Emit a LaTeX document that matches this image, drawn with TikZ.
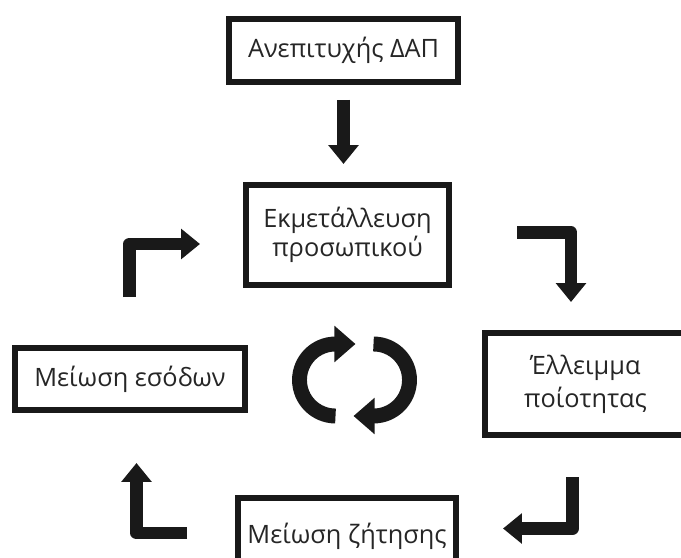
\documentclass[tikz,border=0pt]{standalone}
\usepackage{fontspec}
\setmainfont{Open Sans}
\usetikzlibrary{arrows.meta}

\tikzset{
  box/.style={draw=black!90, line width=4.25pt, inner sep=0pt, align=center,
    text=black!85, font=\fontsize{18}{21}\selectfont},
  arr/.style={draw=black!90, line width=9pt, line join=round,
    -{Triangle[length=13.5pt, width=21pt]}},
  cyc/.style={draw=black!90, line width=10.6pt,
    -{Triangle[length=15pt, width=25pt]}},
}

\begin{document}
\begin{tikzpicture}[x=0.025cm, y=-0.025cm]
    \useasboundingbox (0,0) rectangle (681,557);
    \clip (0,0) rectangle (681,557);
    % boxes
    \node [box, minimum width=5.725cm, minimum height=1.575cm] (anepit) at (343.5,50.5) {Ανεπιτυχής ΔΑΠ};
    \node [box, minimum width=5.075cm, minimum height=2.5cm] (ekmet) at (347.5,235) {Εκμετάλλευση\\προσωπικού};
    \node [box, minimum width=5.025cm, minimum height=2.55cm, font=\fontsize{18}{23.5}\selectfont] (elleimma) at (585.5,384) {Έλλειμμα\\ποίοτητας};
    \node [box, minimum width=5.45cm, minimum height=1.9cm] (zitisi) at (347,536) {Μείωση ζήτησης};
    \node [box, minimum width=5.75cm, minimum height=1.55cm] (esoda) at (130,379) {Μείωση εσόδων};
    % elbow ends
    \coordinate (tr1) at (517,232.5);
    \coordinate (tr2) at (571,302);
    \coordinate (br1) at (572.5,477);
    \coordinate (br2) at (503,528.5);
    \coordinate (bl1) at (187,533);
    \coordinate (bl2) at (136.5,463);
    \coordinate (tl1) at (129.5,297);
    \coordinate (tl2) at (200,244);
    % arrows
    \draw [arr, shorten <=0.375cm, shorten >=0.45cm] (anepit.south) -- (anepit.south |- ekmet.north);
    \draw [arr] (tr1) -| (tr2);
    \draw [arr] (br1) |- (br2);
    \draw [arr] (bl1) -| (bl2);
    \draw [arr] (tl1) |- (tl2);
    % cycle
    \draw [cyc] (335.5,416) arc [start angle=90, end angle=270, radius=36] -- ++(20,0);
    \draw [cyc] (373.5,344) arc [start angle=-90, end angle=90, radius=36] -- ++(-20,0);
\end{tikzpicture}
\end{document}
